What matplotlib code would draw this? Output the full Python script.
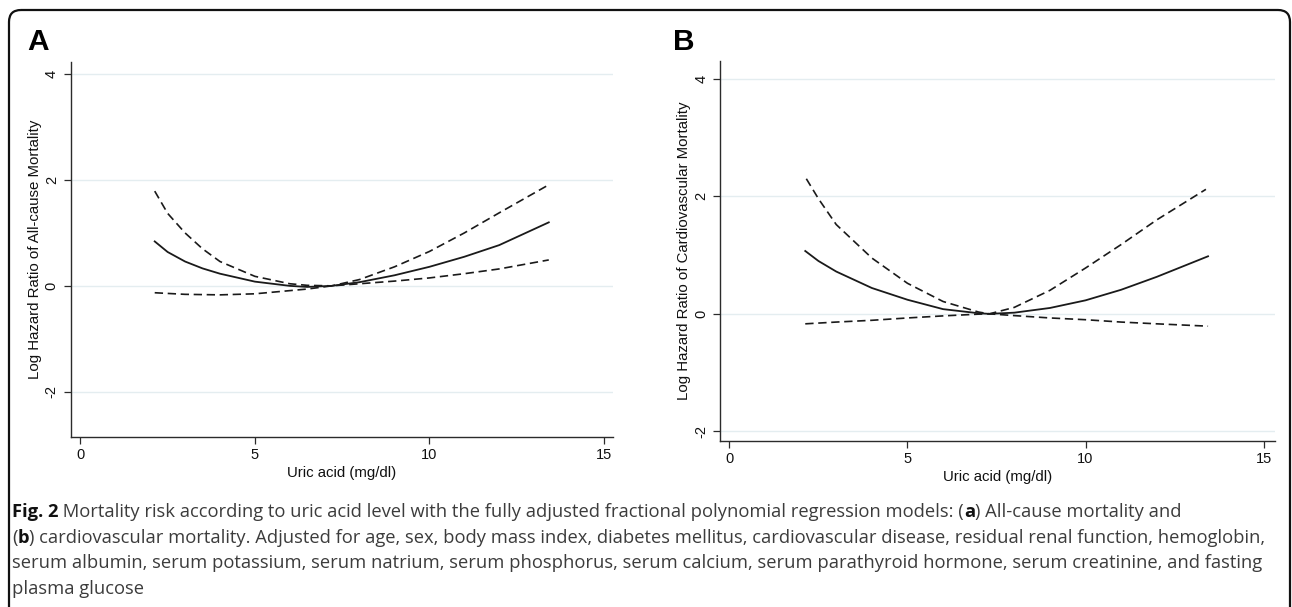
import matplotlib
matplotlib.use("Agg")
import matplotlib.pyplot as plt
from matplotlib.patches import FancyBboxPatch

# ---------------- data ----------------
# Panel A: all-cause mortality
a_x_fit   = [2.13, 2.5, 3.0, 3.5, 4.0, 5.0, 6.0, 6.5, 7.2, 8.0, 9.0, 10.0, 11.0, 12.0, 13.42]
a_fit     = [0.84, 0.64, 0.46, 0.33, 0.23, 0.08, 0.0, -0.02, 0.0, 0.07, 0.20, 0.36, 0.55, 0.77, 1.20]
a_x_up    = [2.13, 2.5, 3.0, 3.5, 4.0, 5.0, 6.0, 6.5, 7.2, 8.0, 9.0, 10.0, 11.0, 12.0, 13.42]
a_up      = [1.79, 1.37, 1.00, 0.70, 0.46, 0.18, 0.04, 0.01, 0.0, 0.12, 0.36, 0.65, 1.00, 1.38, 1.91]
a_x_lo    = [2.13, 3.0, 4.0, 5.0, 6.0, 6.5, 7.2, 8.0, 9.0, 10.0, 11.0, 12.0, 13.42]
a_lo      = [-0.13, -0.16, -0.17, -0.15, -0.09, -0.06, 0.0, 0.04, 0.09, 0.15, 0.23, 0.32, 0.49]

# Panel B: cardiovascular mortality
b_x_fit   = [2.13, 2.5, 3.0, 4.0, 5.0, 6.0, 7.0, 7.3, 8.0, 9.0, 10.0, 11.0, 12.0, 13.44]
b_fit     = [1.07, 0.90, 0.72, 0.44, 0.24, 0.08, 0.01, 0.0, 0.02, 0.10, 0.23, 0.41, 0.63, 0.98]
b_x_up    = [2.16, 2.5, 3.0, 4.0, 5.0, 6.0, 7.0, 7.3, 8.0, 9.0, 10.0, 11.0, 12.0, 13.38]
b_up      = [2.30, 1.96, 1.52, 0.95, 0.52, 0.21, 0.03, 0.0, 0.11, 0.40, 0.78, 1.18, 1.60, 2.12]
b_x_lo    = [2.13, 3.0, 4.0, 5.0, 6.0, 7.0, 7.3, 8.0, 9.0, 10.0, 11.0, 12.0, 13.44]
b_lo      = [-0.17, -0.14, -0.11, -0.07, -0.035, -0.005, 0.0, -0.03, -0.07, -0.10, -0.14, -0.17, -0.21]

x_ticks = [0, 5, 10, 15]
y_ticks = [-2, 0, 2, 4]
x_label = "Uric acid (mg/dl)"
a_ylabel = "Log Hazard Ratio of All-cause Mortality"
b_ylabel = "Log Hazard Ratio of Cardiovascular Mortality"

caption_lines = [
    [("Fig. 2", "bold"), (" Mortality risk according to uric acid level with the fully adjusted fractional polynomial regression models: (", "normal"), ("a", "bold"), (") All-cause mortality and", "normal")],
    [("(", "normal"), ("b", "bold"), (") cardiovascular mortality. Adjusted for age, sex, body mass index, diabetes mellitus, cardiovascular disease, residual renal function, hemoglobin,", "normal")],
    [("serum albumin, serum potassium, serum natrium, serum phosphorus, serum calcium, serum parathyroid hormone, serum creatinine, and fasting", "normal")],
    [("plasma glucose", "normal")],
]

# ---------------- figure ----------------
W, H = 1292, 607
fig = plt.figure(figsize=(W / 100, H / 100), dpi=100)
fig.patch.set_facecolor("white")

plot_font = "Liberation Sans"
cap_font = "Open Sans"

LINE_C = "#1a1a1a"
GRID_C = "#e4edf0"
SPINE_C = "#2b2b2b"
DASH = (0, (5, 2.8))


def px_rect(left, top, right, bottom):
    return [left / W, (H - bottom) / H, (right - left) / W, (bottom - top) / H]


def style_axes(ax, xlim, ylim, ylabel):
    ax.set_xlim(*xlim)
    ax.set_ylim(*ylim)
    ax.set_xticks(x_ticks)
    ax.set_yticks(y_ticks)
    ax.set_xticklabels([str(t) for t in x_ticks], fontfamily=plot_font, fontsize=10.5)
    ax.set_yticklabels([str(t) for t in y_ticks], fontfamily=plot_font, fontsize=10.5,
                       rotation=90, va="center")
    for s in ("top", "right"):
        ax.spines[s].set_visible(False)
    for s in ("left", "bottom"):
        ax.spines[s].set_color(SPINE_C)
        ax.spines[s].set_linewidth(1.0)
    ax.tick_params(axis="both", direction="out", length=5, width=0.9, color=SPINE_C,
                   labelcolor="#111111")
    ax.tick_params(axis="x", pad=3)
    ax.tick_params(axis="y", pad=3.5)
    for t in y_ticks:
        ax.axhline(t, color=GRID_C, lw=1.0, zorder=0)
    ax.set_xlabel(x_label, fontfamily=plot_font, fontsize=10.8, labelpad=3, color="#111111")
    ax.set_ylabel(ylabel, fontfamily=plot_font, fontsize=10.8, labelpad=2, color="#111111")


# Panel A
axA = fig.add_axes(px_rect(70.6, 62, 613, 436.7))
axA.plot(a_x_up, a_up, color=LINE_C, lw=1.2, linestyle=DASH)
axA.plot(a_x_lo, a_lo, color=LINE_C, lw=1.2, linestyle=DASH)
axA.plot(a_x_fit, a_fit, color=LINE_C, lw=1.3)
style_axes(axA, (-0.28, 15.26), (-2.85, 4.23), a_ylabel)

# Panel B
axB = fig.add_axes(px_rect(720, 60.7, 1275, 441))
axB.plot(b_x_up, b_up, color=LINE_C, lw=1.2, linestyle=DASH)
axB.plot(b_x_lo, b_lo, color=LINE_C, lw=1.2, linestyle=DASH)
axB.plot(b_x_fit, b_fit, color=LINE_C, lw=1.3)
style_axes(axB, (-0.264, 15.32), (-2.165, 4.31), b_ylabel)

# Overlay axes in pixel coordinates for frame, panel letters and caption
ov = fig.add_axes([0, 0, 1, 1], zorder=-1)
ov.set_xlim(0, W)
ov.set_ylim(H, 0)
ov.axis("off")
frame = FancyBboxPatch((9, 10), 1281, 640, boxstyle="round,pad=0,rounding_size=12",
                       fill=False, edgecolor="#111111", lw=1.6)
ov.add_patch(frame)

ov.text(27, 50, "A", fontfamily=plot_font, fontweight="bold", fontsize=21.5,
        va="baseline", ha="left", color="black")
ov.text(673, 50, "B", fontfamily=plot_font, fontweight="bold", fontsize=21.5,
        va="baseline", ha="left", color="black")

fig.canvas.draw()
renderer = fig.canvas.get_renderer()
cap_size = 13.2
baselines = [517, 543, 568, 594]
for segs, yb in zip(caption_lines, baselines):
    x = 12
    for txt, wt in segs:
        col = "#111111" if wt == "bold" else "#3c3c3c"
        t = ov.text(x, yb, txt, fontfamily=cap_font, fontweight=wt, fontsize=cap_size,
                    va="baseline", ha="left", color=col)
        bb = t.get_window_extent(renderer=renderer)
        x += bb.width

fig.savefig("out.png", dpi=100, facecolor="white")
